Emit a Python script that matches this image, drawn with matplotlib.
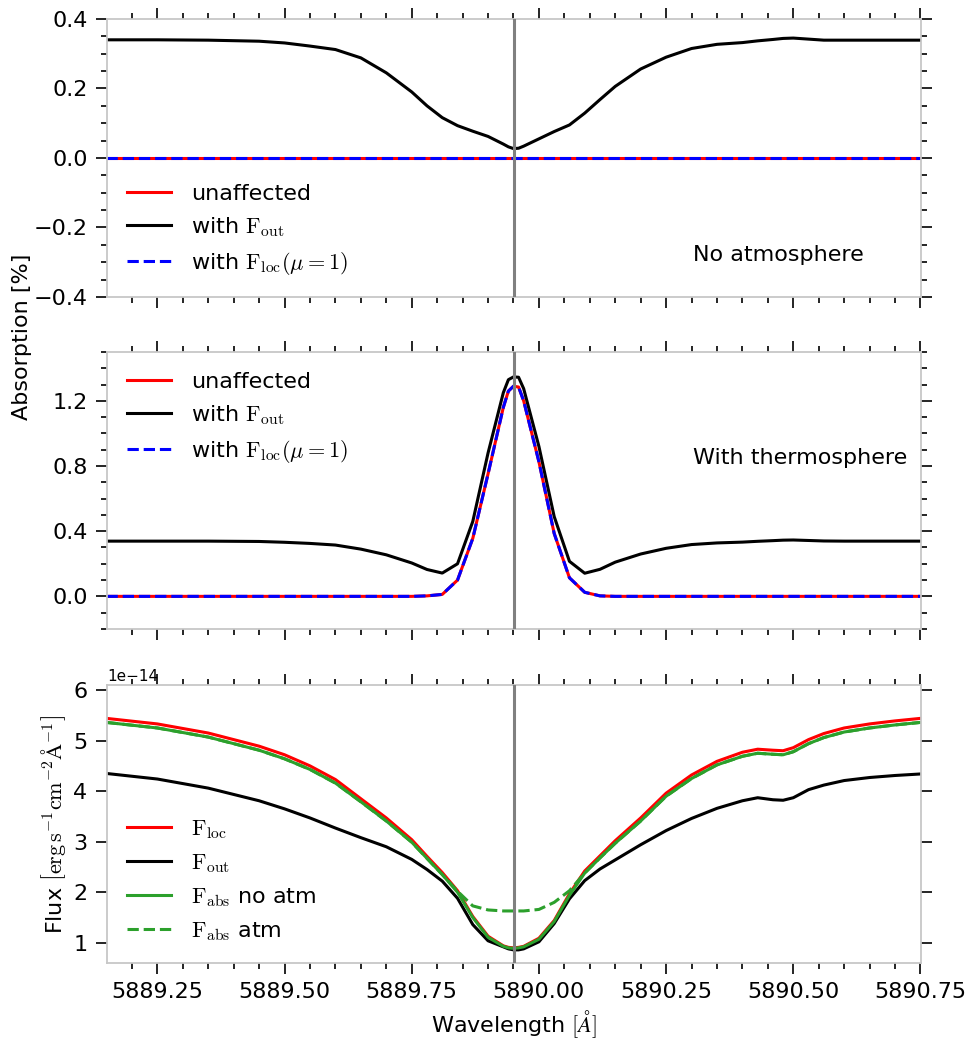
import matplotlib
matplotlib.use("Agg")
import matplotlib.pyplot as plt
from matplotlib.ticker import MultipleLocator, FormatStrFormatter

plt.rcParams["mathtext.fontset"] = "cm"
plt.rcParams["font.family"] = ["DejaVu Sans"]

# Wavelength grid [Angstrom]
wavelength = [5889.15, 5889.25, 5889.35, 5889.45, 5889.50, 5889.55, 5889.60, 5889.65,
              5889.70, 5889.75, 5889.78, 5889.81, 5889.84, 5889.87, 5889.90, 5889.93,
              5889.94, 5889.95, 5889.96, 5889.97, 5890.00, 5890.03, 5890.06, 5890.09,
              5890.12, 5890.15, 5890.20, 5890.25, 5890.30, 5890.35, 5890.40, 5890.43,
              5890.46, 5890.48, 5890.50, 5890.53, 5890.56, 5890.60, 5890.65, 5890.70,
              5890.75]
line_center = 5889.951

# Panel 1: no atmosphere, absorption [%]
noatm_unaffected = [0.0] * len(wavelength)
noatm_fout = [0.340, 0.340, 0.339, 0.336, 0.331, 0.322, 0.312, 0.288,
              0.245, 0.190, 0.150, 0.116, 0.093, 0.077, 0.062, 0.040,
              0.032, 0.027, 0.028, 0.034, 0.055, 0.076, 0.095, 0.129,
              0.168, 0.206, 0.256, 0.290, 0.315, 0.327, 0.332, 0.337,
              0.341, 0.344, 0.345, 0.342, 0.339, 0.339, 0.339, 0.339,
              0.339]
noatm_floc = [0.0] * len(wavelength)

# Panel 2: with thermosphere, absorption [%]
thermo_unaffected = [0.0, 0.0, 0.0, 0.0, 0.0, 0.0, 0.0, 0.0,
                     0.0, 0.0, 0.003, 0.012, 0.100, 0.356, 0.752, 1.160,
                     1.260, 1.290, 1.285, 1.200, 0.826, 0.386, 0.114, 0.025,
                     0.003, 0.0, 0.0, 0.0, 0.0, 0.0, 0.0, 0.0,
                     0.0, 0.0, 0.0, 0.0, 0.0, 0.0, 0.0, 0.0,
                     0.0]
thermo_fout = [0.339, 0.339, 0.339, 0.337, 0.332, 0.325, 0.315, 0.290,
               0.255, 0.205, 0.165, 0.143, 0.200, 0.460, 0.880, 1.250,
               1.330, 1.347, 1.345, 1.275, 0.920, 0.490, 0.215, 0.142,
               0.166, 0.210, 0.260, 0.295, 0.318, 0.328, 0.333, 0.338,
               0.342, 0.345, 0.346, 0.343, 0.340, 0.339, 0.339, 0.339,
               0.339]
thermo_floc = thermo_unaffected

# Panel 3: fluxes [1e-14 erg s-1 cm-2 A-1]
flux_loc = [5.44, 5.33, 5.15, 4.89, 4.72, 4.50, 4.23, 3.85,
            3.47, 3.04, 2.71, 2.39, 2.03, 1.52, 1.13, 0.94,
            0.91, 0.90, 0.91, 0.93, 1.09, 1.44, 1.97, 2.42,
            2.72, 3.02, 3.47, 3.96, 4.32, 4.59, 4.77, 4.83,
            4.81, 4.80, 4.86, 5.02, 5.14, 5.25, 5.33, 5.39,
            5.44]
flux_out = [4.35, 4.24, 4.06, 3.81, 3.65, 3.47, 3.27, 3.08,
            2.90, 2.65, 2.45, 2.22, 1.88, 1.36, 1.04, 0.92,
            0.88, 0.86, 0.86, 0.88, 1.02, 1.38, 1.87, 2.23,
            2.46, 2.64, 2.94, 3.22, 3.46, 3.66, 3.81, 3.87,
            3.83, 3.82, 3.87, 4.03, 4.12, 4.21, 4.27, 4.31,
            4.34]
flux_abs_noatm = [5.36, 5.25, 5.07, 4.81, 4.64, 4.43, 4.16, 3.79,
                  3.41, 2.99, 2.67, 2.35, 2.00, 1.50, 1.11, 0.93,
                  0.90, 0.89, 0.90, 0.92, 1.07, 1.42, 1.94, 2.38,
                  2.68, 2.97, 3.41, 3.90, 4.25, 4.52, 4.69, 4.75,
                  4.73, 4.72, 4.78, 4.94, 5.06, 5.17, 5.25, 5.31,
                  5.36]
flux_abs_atm = [5.36, 5.25, 5.07, 4.81, 4.64, 4.43, 4.16, 3.79,
                3.41, 2.99, 2.67, 2.35, 2.02, 1.73, 1.65, 1.63,
                1.63, 1.63, 1.63, 1.63, 1.66, 1.80, 2.03, 2.38,
                2.68, 2.97, 3.41, 3.90, 4.25, 4.52, 4.69, 4.75,
                4.73, 4.72, 4.78, 4.94, 5.06, 5.17, 5.25, 5.31,
                5.36]
flux_scale = 1e-14

FS = 16
LW = 2.2


def style_axis(ax):
    for spine in ax.spines.values():
        spine.set_color("0.78")
        spine.set_linewidth(1.3)
    ax.tick_params(which="both", direction="out", top=True, right=True,
                   color="k", width=1.2, labelsize=FS, pad=6)
    ax.tick_params(which="major", length=8)
    ax.tick_params(which="minor", length=4)
    ax.xaxis.set_major_locator(MultipleLocator(0.25))
    ax.xaxis.set_minor_locator(MultipleLocator(0.05))
    ax.xaxis.set_major_formatter(FormatStrFormatter("%.2f"))
    ax.set_xlim(5889.151, 5890.751)


def absorption_panel(ax, unaffected, fout, floc, loc):
    ax.plot(wavelength, unaffected, color="red", lw=LW, label="unaffected")
    ax.plot(wavelength, fout, color="black", lw=LW, label=r"with $\mathrm{F_{out}}$")
    ax.plot(wavelength, floc, color="blue", lw=LW, ls="--",
            label=r"with $\mathrm{F_{loc}}(\mu=1)$")
    ax.axvline(line_center, color="gray", lw=2.2, zorder=5)
    ax.legend(loc=loc, frameon=False, fontsize=FS, handletextpad=0.9)
    style_axis(ax)
    ax.tick_params(labelbottom=False)


fig = plt.figure(figsize=(9.71, 10.42), dpi=100)
ax1 = fig.add_axes([0.1102, 0.7150, 0.8383, 0.2668])
ax2 = fig.add_axes([0.1102, 0.3964, 0.8383, 0.2658])
ax3 = fig.add_axes([0.1102, 0.0758, 0.8383, 0.2668])

# top: no atmosphere
absorption_panel(ax1, noatm_unaffected, noatm_fout, noatm_floc, "lower left")
ax1.set_ylim(-0.4, 0.4)
ax1.yaxis.set_major_locator(MultipleLocator(0.2))
ax1.yaxis.set_minor_locator(MultipleLocator(0.05))
ax1.text(0.72, 0.15, "No atmosphere", transform=ax1.transAxes,
         fontsize=FS, ha="left", va="center")

# middle: with thermosphere
absorption_panel(ax2, thermo_unaffected, thermo_fout, thermo_floc, "upper left")
ax2.set_ylim(-0.2, 1.5)
ax2.yaxis.set_major_locator(MultipleLocator(0.4))
ax2.yaxis.set_minor_locator(MultipleLocator(0.1))
ax2.text(0.72, 0.617, "With thermosphere", transform=ax2.transAxes,
         fontsize=FS, ha="left", va="center")

fig.text(0.023, 0.677, "Absorption [%]", rotation=90, fontsize=FS,
         ha="center", va="center")

# bottom: fluxes
ax3.plot(wavelength, [f * flux_scale for f in flux_loc], color="red", lw=LW,
         label=r"$\mathrm{F_{loc}}$")
ax3.plot(wavelength, [f * flux_scale for f in flux_out], color="black", lw=LW,
         label=r"$\mathrm{F_{out}}$")
ax3.plot(wavelength, [f * flux_scale for f in flux_abs_noatm], color="#2ca02c", lw=LW,
         label=r"$\mathrm{F_{abs}}$ no atm")
ax3.plot(wavelength, [f * flux_scale for f in flux_abs_atm], color="#2ca02c", lw=LW,
         ls="--", label=r"$\mathrm{F_{abs}}$ atm")
ax3.axvline(line_center, color="gray", lw=2.2, zorder=5)
ax3.legend(loc="lower left", frameon=False, fontsize=FS, handletextpad=0.9)
style_axis(ax3)
ax3.set_ylim(0.6e-14, 6.1e-14)
ax3.yaxis.set_major_locator(MultipleLocator(1e-14))
ax3.yaxis.get_offset_text().set_fontsize(11)
ax3.set_xlabel(r"Wavelength $[\AA]$", fontsize=FS)
ax3.set_ylabel(r"Flux $\left[\mathrm{erg\,s^{-1}cm^{-2}\AA^{-1}}\right]$", fontsize=FS)

fig.savefig("out.png", dpi=100)
